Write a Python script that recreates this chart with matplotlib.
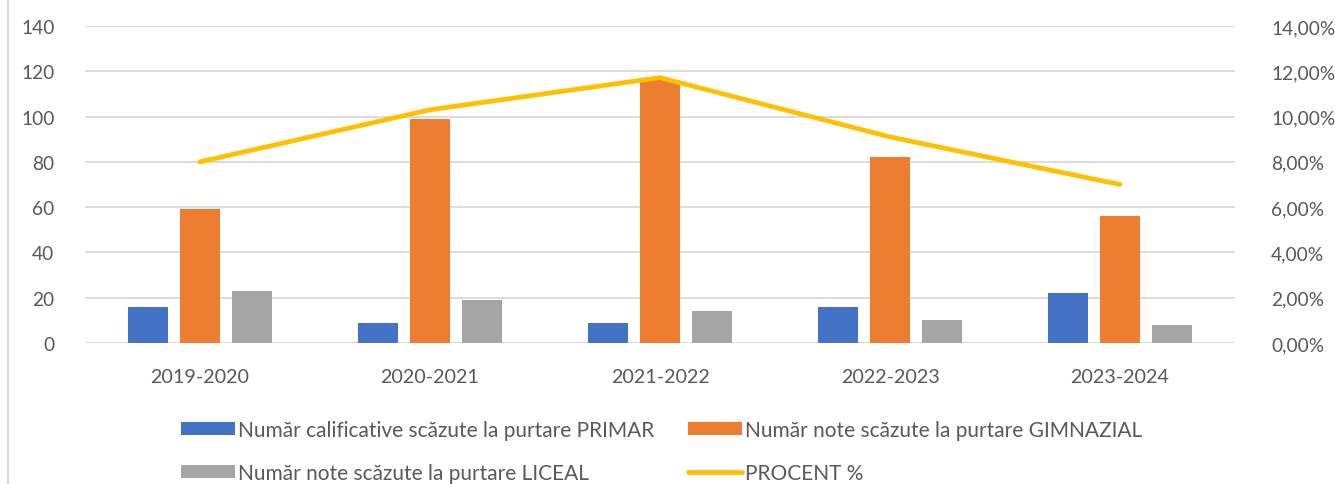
import numpy as np
import matplotlib.pyplot as plt
from matplotlib.lines import Line2D
from matplotlib.ticker import FuncFormatter

plt.rcParams['font.family'] = ['Lato', 'DejaVu Sans']

ani = ['2019-2020', '2020-2021', '2021-2022', '2022-2023', '2023-2024']
primar = [16, 9, 9, 16, 22]
gimnazial = [59, 99, 116, 82, 56]
liceal = [23, 19, 14, 10, 8]
procent = [8.0, 10.3, 11.72, 9.1, 7.0]

text_col = '#595959'
grid_col = '#D9D9D9'

fig = plt.figure(figsize=(13.35, 4.85), dpi=100)
ax = fig.add_axes([85 / 1335, 1 - 344 / 485, 1150 / 1335, 317 / 485])
ax2 = ax.twinx()

x = np.arange(len(ani))
w = 0.174
step = 0.224
b1 = ax.bar(x - step, primar, w, color='#4472C4', zorder=3)
b2 = ax.bar(x, gimnazial, w, color='#ED7D31', zorder=3)
b3 = ax.bar(x + step, liceal, w, color='#A5A5A5', zorder=3)
l1, = ax2.plot(x, procent, color='#FFC000', lw=3.4, solid_capstyle='round')

ax.set_xlim(-0.5, len(ani) - 0.5)
ax.set_ylim(0, 140)
ax.set_yticks(range(0, 141, 20))
ax2.set_ylim(0, 14)
ax2.set_yticks(range(0, 15, 2))
ax2.yaxis.set_major_formatter(FuncFormatter(lambda v, p: f'{v:.2f}%'.replace('.', ',')))
ax.set_xticks(x)
ax.set_xticklabels(ani)

ax.grid(axis='y', color=grid_col, lw=1.3, zorder=0)
for a in (ax, ax2):
    for s in a.spines.values():
        s.set_visible(False)
    a.tick_params(length=0, labelsize=13.8, colors=text_col)
ax.tick_params(axis='y', pad=22)
ax2.tick_params(axis='y', pad=26)
ax.tick_params(axis='x', labelsize=14.2, pad=18)

leg_kw = dict(loc='upper left', frameon=False, fontsize=15, labelcolor=text_col,
              handlelength=2.6, handleheight=0.6, handletextpad=0.15,
              labelspacing=1.1, borderaxespad=0, borderpad=0)
fig.legend([b1, b3],
           ['Număr calificative scăzute la purtare PRIMAR',
            'Număr note scăzute la purtare LICEAL'],
           bbox_to_anchor=(181 / 1335, 1 - 421 / 485), **leg_kw)
fig.legend([b2, l1],
           ['Număr note scăzute la purtare GIMNAZIAL', 'PROCENT %'],
           bbox_to_anchor=(688 / 1335, 1 - 421 / 485), **leg_kw)

fig.add_artist(Line2D([8 / 1335, 8 / 1335], [0, 1], color=grid_col, lw=1.5))

fig.savefig('out.png', dpi=100)
